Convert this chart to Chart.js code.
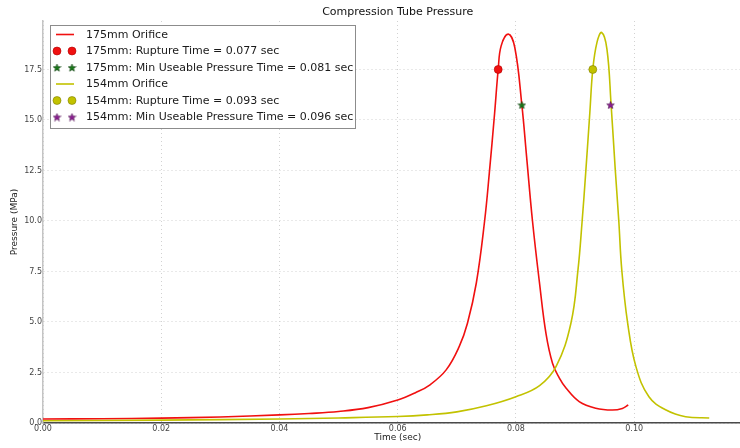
<!DOCTYPE html>
<html>
<head>
<meta charset="utf-8">
<script src="https://cdn.jsdelivr.net/npm/chart.js@4"></script>
<style>
  html, body { margin: 0; padding: 0; background: #fff; overflow: hidden; }
  #wrap { width: 780px; height: 448px; }
</style>
</head>
<body>
<div id="wrap"><canvas id="pressureChart" width="780" height="448"></canvas></div>
<script>
// 175mm orifice curve (sec, MPa)
const time175 = [0.000, 0.010, 0.020, 0.030, 0.040, 0.045, 0.050, 0.055, 0.060, 0.063, 0.0654,
  0.0682, 0.0704, 0.0718, 0.0733, 0.0747, 0.0755, 0.0764, 0.0770, 0.0775, 0.0787,
  0.0798, 0.0810, 0.0818, 0.0828, 0.0840, 0.0851, 0.0862, 0.0873, 0.0885, 0.0907, 0.0935, 0.0963,
  0.0980, 0.0990];
const pressure175 = [0.20, 0.21, 0.24, 0.30, 0.40, 0.47, 0.57, 0.76, 1.14, 1.50, 1.88,
  2.63, 3.78, 4.94, 6.93, 10.0, 12.38, 15.36, 17.50, 18.67, 19.25,
  18.60, 15.75, 13.20, 10.0, 6.90, 4.40, 2.95, 2.25, 1.72, 1.06, 0.73, 0.64,
  0.72, 0.89];

// 154mm orifice curve (sec, MPa)
const time154 = [0.000, 0.020, 0.040, 0.050, 0.060, 0.065, 0.070, 0.075, 0.080, 0.084, 0.0868, 0.0893,
  0.0905, 0.0912, 0.0918, 0.0925, 0.0930, 0.0937, 0.0945, 0.0954, 0.0961, 0.0968, 0.0974,
  0.0979, 0.0989, 0.1003, 0.1025, 0.1054, 0.1087, 0.1127];
const pressure154 = [0.11, 0.14, 0.20, 0.25, 0.32, 0.40, 0.55, 0.85, 1.30, 1.85, 2.80, 4.94,
  7.59, 10.0, 12.38, 15.36, 17.50, 18.83, 19.33, 18.50, 15.75, 12.55, 10.0,
  7.59, 4.94, 2.79, 1.30, 0.64, 0.31, 0.25];

// 이벤트 포인트
const rupture175 = { t: [0.077], p: [17.5] };
const minUse175 = { t: [0.081], p: [15.75] };
const rupture154 = { t: [0.093], p: [17.5] };
const minUse154 = { t: [0.096], p: [15.75] };

const seriesLabels = [
  '175mm Orifice',
  '175mm: Rupture Time = 0.077 sec',
  '175mm: Min Useable Pressure Time = 0.081 sec',
  '154mm Orifice',
  '154mm: Rupture Time = 0.093 sec',
  '154mm: Min Useable Pressure Time = 0.096 sec'
];

const xTickStep = 0.02;
const yTickStep = 2.5;

const toPoints = (xs, ys) => xs.map((x, i) => ({ x: x, y: ys[i] }));

// matplotlib 스타일 별 마커
function makeStar(fill, edge, size) {
  const c = document.createElement('canvas');
  c.width = size; c.height = size;
  const g = c.getContext('2d');
  const cx = size / 2, cy = size / 2 + 0.5;
  const R = size / 2 - 0.5, r = R * 0.42;
  g.beginPath();
  for (let i = 0; i < 10; i++) {
    const a = -Math.PI / 2 + i * Math.PI / 5;
    const rad = i % 2 === 0 ? R : r;
    g.lineTo(cx + rad * Math.cos(a), cy + rad * Math.sin(a));
  }
  g.closePath();
  g.fillStyle = fill;
  g.fill();
  g.lineWidth = 0.6;
  g.strokeStyle = edge;
  g.stroke();
  return c;
}

const greenStar = makeStar('#1a7a1a', '#0b3d0b', 9);
const purpleStar = makeStar('#8e1f94', '#4a0a4d', 9);

const RED = '#f01010';
const OLIVE = '#c2c200';

// 범례 직접 그리기 (matplotlib 처럼 마커 2개)
const boxLegend = {
  id: 'boxLegend',
  afterDraw(chart) {
    const ctx = chart.ctx;
    const sets = chart.data.datasets;
    ctx.save();
    ctx.fillStyle = '#ffffff';
    ctx.fillRect(50.5, 25.5, 305, 103);
    ctx.strokeStyle = '#8c8c8c';
    ctx.lineWidth = 1;
    ctx.strokeRect(50.5, 25.5, 305, 103);
    ctx.font = '11px "DejaVu Sans"';
    ctx.textBaseline = 'middle';
    sets.forEach((ds, i) => {
      const y = 34.5 + i * 16.5;
      if (ds.showLine) {
        ctx.strokeStyle = ds.borderColor;
        ctx.lineWidth = 1.6;
        ctx.beginPath();
        ctx.moveTo(56, y);
        ctx.lineTo(74, y);
        ctx.stroke();
      } else {
        [57, 72].forEach(mx => {
          if (ds.pointStyle === 'circle') {
            ctx.beginPath();
            ctx.arc(mx, y, ds.pointRadius, 0, Math.PI * 2);
            ctx.fillStyle = ds.backgroundColor;
            ctx.fill();
            ctx.lineWidth = ds.borderWidth;
            ctx.strokeStyle = ds.borderColor;
            ctx.stroke();
          } else {
            const img = ds.pointStyle;
            ctx.drawImage(img, mx - img.width / 2, y - img.height / 2);
          }
        });
      }
      ctx.fillStyle = '#1a1a1a';
      ctx.fillText(ds.label, 86, y + 0.5);
    });
    ctx.restore();
  }
};

const ctx = document.getElementById('pressureChart').getContext('2d');
new Chart(ctx, {
  type: 'scatter',
  data: {
    datasets: [
      {
        label: seriesLabels[0],
        data: toPoints(time175, pressure175),
        showLine: true,
        borderColor: RED,
        borderWidth: 1.6,
        pointRadius: 0,
        tension: 0.4,
        order: 3
      },
      {
        label: seriesLabels[1],
        data: toPoints(rupture175.t, rupture175.p),
        pointStyle: 'circle',
        pointRadius: 4,
        backgroundColor: RED,
        borderColor: '#b00000',
        borderWidth: 0.6,
        order: 0
      },
      {
        label: seriesLabels[2],
        data: toPoints(minUse175.t, minUse175.p),
        pointStyle: greenStar,
        pointRadius: 4,
        order: 0
      },
      {
        label: seriesLabels[3],
        data: toPoints(time154, pressure154),
        showLine: true,
        borderColor: OLIVE,
        borderWidth: 1.6,
        pointRadius: 0,
        tension: 0.4,
        order: 2
      },
      {
        label: seriesLabels[4],
        data: toPoints(rupture154.t, rupture154.p),
        pointStyle: 'circle',
        pointRadius: 4,
        backgroundColor: OLIVE,
        borderColor: '#7d7d00',
        borderWidth: 0.6,
        order: 0
      },
      {
        label: seriesLabels[5],
        data: toPoints(minUse154.t, minUse154.p),
        pointStyle: purpleStar,
        pointRadius: 4,
        order: 0
      }
    ]
  },
  options: {
    responsive: false,
    animation: false,
    layout: { padding: { left: 0, top: 0, right: 27.6, bottom: 0 } },
    plugins: {
      legend: { display: false },
      tooltip: { enabled: false },
      title: {
        display: true,
        text: 'Compression Tube Pressure',
        fullSize: false,
        color: '#111',
        font: { family: 'DejaVu Sans', size: 11, weight: 'normal' },
        padding: { top: 6, bottom: 1.8 }
      }
    },
    scales: {
      x: {
        type: 'linear',
        min: 0,
        max: 0.12,
        afterFit: s => { s.height = 25; },
        ticks: {
          stepSize: xTickStep,
          includeBounds: false,
          padding: 1,
          color: '#444',
          font: { family: 'DejaVu Sans', size: 8 },
          maxRotation: 0,
          callback: v => v.toFixed(2)
        },
        grid: { color: '#d2d2d2', drawTicks: false },
        border: { color: '#4a4a4a', width: 1.5, dash: [1, 3] },
        title: {
          display: true,
          text: 'Time (sec)',
          color: '#222',
          font: { family: 'DejaVu Sans', size: 9 },
          padding: { top: 0, bottom: 4.6 }
        }
      },
      y: {
        type: 'linear',
        min: 0,
        max: 19.9,
        afterFit: s => { s.width = 43; },
        ticks: {
          stepSize: yTickStep,
          includeBounds: false,
          padding: 1,
          color: '#444',
          font: { family: 'DejaVu Sans', size: 8 },
          callback: v => v.toFixed(1)
        },
        grid: { color: '#d2d2d2', drawTicks: false },
        border: { color: '#c4c4c4', width: 1.5, dash: [1, 3] },
        title: {
          display: true,
          text: 'Pressure (MPa)',
          color: '#222',
          font: { family: 'DejaVu Sans', size: 9 },
          padding: { top: 9, bottom: 0 }
        }
      }
    }
  },
  plugins: [boxLegend]
});
</script>
</body>
</html>
